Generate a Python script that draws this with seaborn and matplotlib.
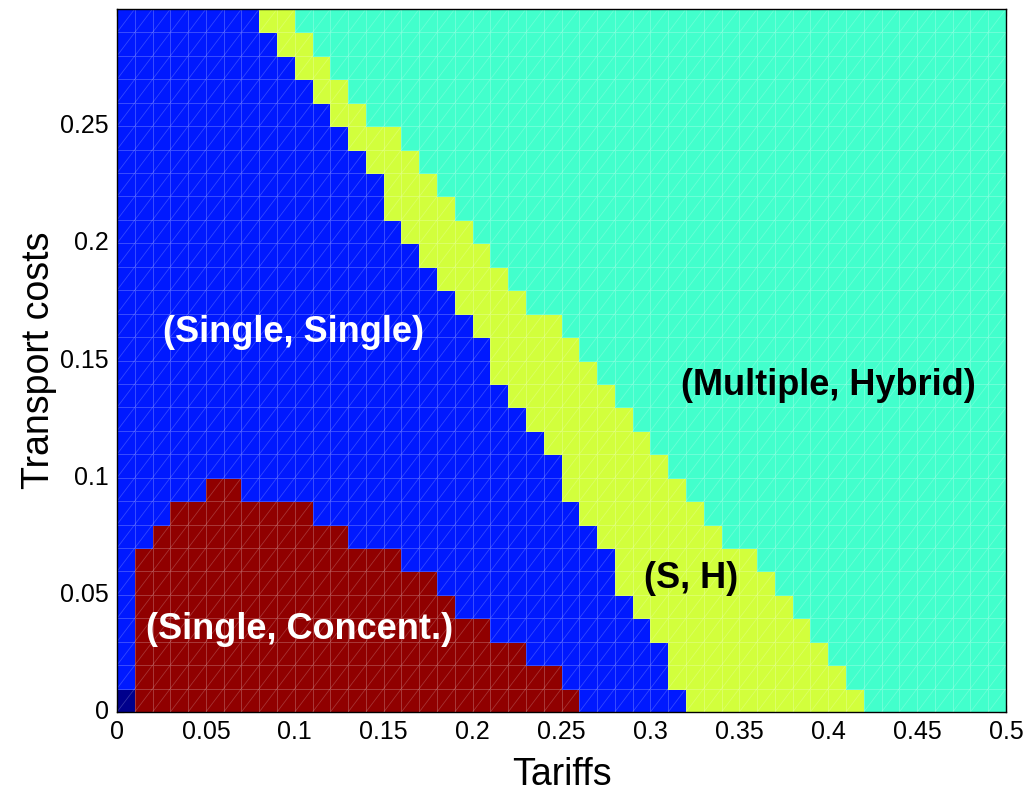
import numpy as np
import matplotlib
matplotlib.use("Agg")
import matplotlib.pyplot as plt
from matplotlib.colors import ListedColormap
from matplotlib.collections import LineCollection
import seaborn as sns

# grid step (both axes)
step = 0.01
n_tariff = 50
n_transport = 30

# per transport-cost row (0.00, 0.01, ... 0.29): tariff where each regime ends
blue_end = [0.32, 0.31, 0.31, 0.30, 0.29, 0.28, 0.28, 0.27, 0.26, 0.25,
            0.25, 0.24, 0.23, 0.22, 0.21, 0.21, 0.20, 0.19, 0.18, 0.17,
            0.16, 0.15, 0.15, 0.14, 0.13, 0.12, 0.11, 0.10, 0.09, 0.08]
yellow_end = [0.42, 0.41, 0.40, 0.39, 0.38, 0.37, 0.36, 0.34, 0.33, 0.32,
              0.31, 0.30, 0.29, 0.28, 0.27, 0.26, 0.25, 0.23, 0.22, 0.21,
              0.20, 0.19, 0.18, 0.17, 0.16, 0.14, 0.13, 0.12, 0.11, 0.10]
# (Single, Concent.) region, rows 0..9
red_start = [0.01, 0.01, 0.01, 0.01, 0.01, 0.01, 0.01, 0.02, 0.03, 0.05]
red_end = [0.26, 0.25, 0.23, 0.21, 0.19, 0.18, 0.16, 0.13, 0.11, 0.07]

# regime codes: 0 corner, 1 (Single, Single), 2 (Single, Concent.), 3 (S, H), 4 (Multiple, Hybrid)
colors = ["#00008c", "#0019ff", "#900000", "#d2ff3c", "#42ffcc"]

x_ticks = [0, 0.05, 0.1, 0.15, 0.2, 0.25, 0.3, 0.35, 0.4, 0.45, 0.5]
y_ticks = [0, 0.05, 0.1, 0.15, 0.2, 0.25]

labels = ["(Single, Single)", "(Single, Concent.)", "(Multiple, Hybrid)", "(S, H)"]
label_colors = ["white", "white", "black", "black"]
label_pos = [(0.099, 0.162), (0.1025, 0.035), (0.40, 0.1395), (0.323, 0.057)]


def idx(v):
    return int(round(v / step))


grid = np.full((n_transport, n_tariff), 4)
for r in range(n_transport):
    grid[r, :idx(yellow_end[r])] = 3
    grid[r, :idx(blue_end[r])] = 1
    if r < len(red_start):
        grid[r, idx(red_start[r]):idx(red_end[r])] = 2
grid[0, 0] = 0

sns.set_style("white")
plt.rcParams["font.family"] = ["Liberation Sans", "DejaVu Sans"]
plt.rcParams["text.color"] = "black"
plt.rcParams["axes.labelcolor"] = "black"
plt.rcParams["xtick.color"] = "black"
plt.rcParams["ytick.color"] = "black"

fig = plt.figure(figsize=(10.31, 7.93), dpi=100)
ax = fig.add_axes([117 / 1031, 81 / 793, 889 / 1031, 703 / 793])

sns.heatmap(grid, cmap=ListedColormap(colors), vmin=-0.5, vmax=4.5, cbar=False,
            linewidths=0.6, linecolor=(1, 1, 1, 0.22), ax=ax)
ax.set_ylim(0, n_transport)
ax.set_xlim(0, n_tariff)

# faint triangle edges inside each cell
segs = [[(i, j), (i + 1, j + 1)] for i in range(n_tariff) for j in range(n_transport)]
ax.add_collection(LineCollection(segs, colors=(1, 1, 1, 0.2), linewidths=0.6))

ax.set_xticks([v / step for v in x_ticks])
ax.set_xticklabels([f"{v:g}" for v in x_ticks], rotation=0, fontsize=18)
ax.set_yticks([v / step for v in y_ticks])
ax.set_yticklabels([f"{v:g}" for v in y_ticks], rotation=0, fontsize=18)
ax.tick_params(direction="in", length=5, width=0.8, color="#333333",
               labelcolor="black", top=True, right=True, bottom=True, left=True, pad=6)

for s in ax.spines.values():
    s.set_visible(True)
    s.set_color("black")
    s.set_linewidth(1.0)

ax.set_xlabel("Tariffs", fontsize=27, labelpad=9, color="black")
ax.set_ylabel("Transport costs", fontsize=27, labelpad=2, color="black")

for text, c, (tx, ty) in zip(labels, label_colors, label_pos):
    ax.text(tx / step, ty / step, text, color=c, fontsize=26, fontweight="bold",
            ha="center", va="center")

fig.savefig("out.png", dpi=100)
